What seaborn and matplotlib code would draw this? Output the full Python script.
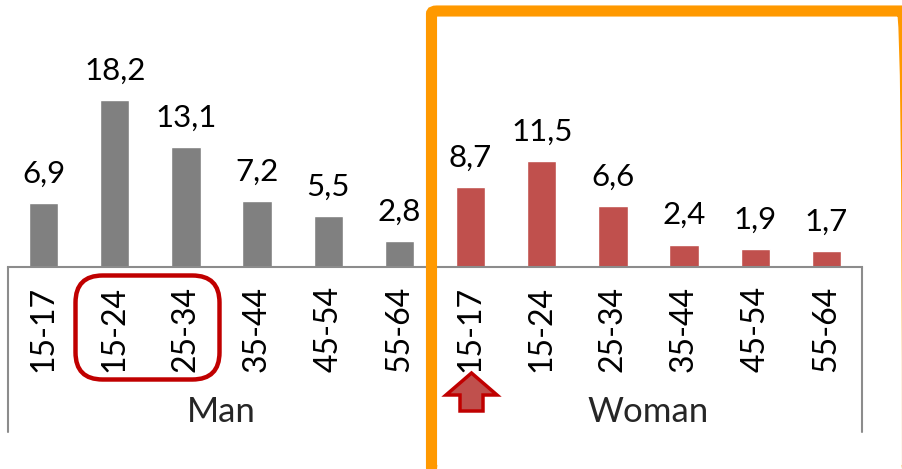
import numpy as np
import pandas as pd
import matplotlib
matplotlib.use('Agg')
import matplotlib.pyplot as plt
from matplotlib.patches import FancyBboxPatch, Polygon
from matplotlib.lines import Line2D
import seaborn as sns

# Chart data
ages = ['15-17', '15-24', '25-34', '35-44', '45-54', '55-64']
groups = ['Man', 'Woman']
man_values = [6.9, 18.2, 13.1, 7.2, 5.5, 2.8]
woman_values = [8.7, 11.5, 6.6, 2.4, 1.9, 1.7]

df = pd.DataFrame({
    'group': [groups[0]] * len(ages) + [groups[1]] * len(ages),
    'age': ages + ages,
    'value': man_values + woman_values,
})
df['key'] = df['group'] + ' ' + df['age']

sns.set_theme(style='white')
plt.rcParams['font.family'] = ['Lato', 'DejaVu Sans']

W, H = 903, 469
fig = plt.figure(figsize=(W / 100, H / 100), dpi=100)

def fx(x):
    return x / W

def fy(y):
    return 1 - y / H

axis_y = 266.5
ax = fig.add_axes([fx(8), fy(axis_y), fx(862) - fx(8), fy(0) - fy(axis_y)])

sns.barplot(data=df, x='key', y='value', hue='group', dodge=False,
            palette={'Man': '#808080', 'Woman': '#C0504D'},
            width=0.41, legend=False, ax=ax, saturation=1)

ax.set_ylim(0, axis_y / 9.15)
ax.set_xlim(-0.5, len(df) - 0.5)
ax.set_xlabel('')
ax.set_ylabel('')
ax.set_yticks([])
for s in ['top', 'left', 'right']:
    ax.spines[s].set_visible(False)
ax.spines['bottom'].set_color('#8C8C8C')
ax.spines['bottom'].set_linewidth(1.5)

ax.set_xticks(range(len(df)))
ax.set_xticklabels(df['age'], rotation=90, fontsize=23, color='black')
ax.tick_params(axis='x', length=0, pad=14)

# value labels
for i, v in enumerate(df['value']):
    ax.annotate(f'{v:.1f}'.replace('.', ','), (i, v), xytext=(0, 11),
                textcoords='offset points', ha='center', va='bottom',
                fontsize=22.5, color='black')

# group separators and group labels
for x in [8, 435, 862]:
    fig.add_artist(Line2D([fx(x), fx(x)], [fy(axis_y), fy(432)],
                          color='#8C8C8C', lw=1.5))
fig.text(fx(221.5), fy(412), 'Man', ha='center', va='center', fontsize=25)
fig.text(fx(648.5), fy(412), 'Woman', ha='center', va='center', fontsize=25)

# red rounded box around 15-24 / 25-34 (Man)
fig.add_artist(FancyBboxPatch((fx(75.5), fy(379.5)), fx(219.5) - fx(75.5),
                              fy(275.5) - fy(379.5),
                              boxstyle='round,pad=0,rounding_size=0.03',
                              transform=fig.transFigure, fill=False,
                              edgecolor='#C00000', lw=3.2,
                              mutation_aspect=W / H))

# red up arrow under Woman 15-17
arrow_px = [(471.5, 373), (497, 395), (483, 395), (483, 411),
            (460, 411), (460, 395), (446, 395)]
fig.add_artist(Polygon([(fx(x), fy(y)) for x, y in arrow_px], closed=True,
                       transform=fig.transFigure, facecolor='#C0504D',
                       edgecolor='#C00000', lw=2.5, joinstyle='miter'))

# orange highlight box around Woman group
fig.add_artist(FancyBboxPatch((fx(431.5), fy(470.5)), fx(907.5) - fx(431.5),
                              fy(11) - fy(470.5),
                              boxstyle='round,pad=0,rounding_size=0.006',
                              transform=fig.transFigure, fill=False,
                              edgecolor='#FF9900', lw=8, zorder=10))

fig.savefig('out.png', dpi=100)
